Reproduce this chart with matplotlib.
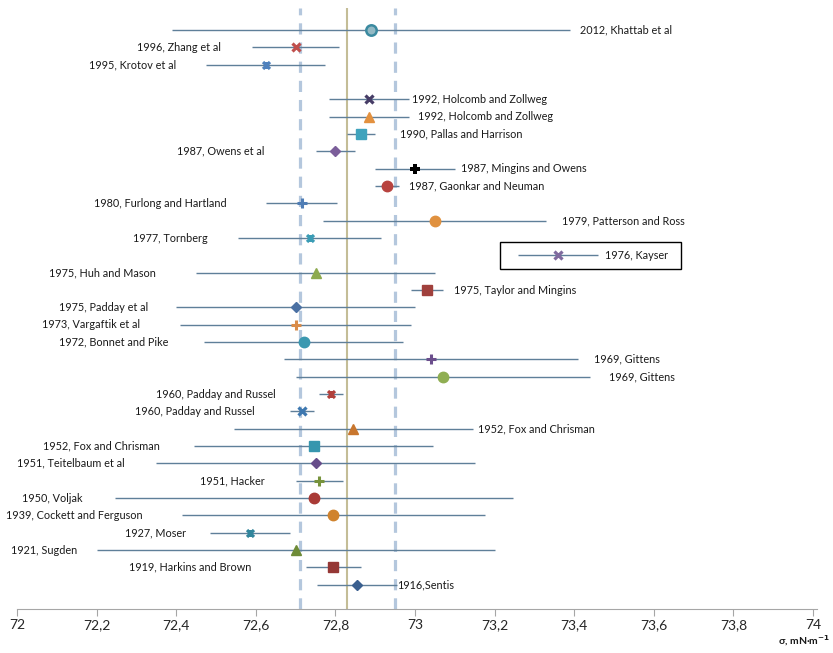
import numpy as np
import matplotlib
matplotlib.use("Agg")
import matplotlib.pyplot as plt
from matplotlib.path import Path
from matplotlib.patches import Rectangle
from matplotlib.ticker import FuncFormatter, MultipleLocator

plt.rcParams['font.family'] = ['Lato', 'DejaVu Sans']

# data: one row per study, None = empty row
labels = ["2012, Khattab et al", "1996, Zhang et al", "1995, Krotov et al", None,
          "1992, Holcomb and Zollweg", "1992, Holcomb and Zollweg", "1990, Pallas and Harrison",
          "1987, Owens et al", "1987, Mingins and Owens", "1987, Gaonkar and Neuman",
          "1980, Furlong and Hartland", "1979, Patterson and Ross", "1977, Tornberg",
          "1976, Kayser", "1975, Huh and Mason", "1975, Taylor and Mingins",
          "1975, Padday et al", "1973, Vargaftik et al", "1972, Bonnet and Pike",
          "1969, Gittens", "1969, Gittens", "1960, Padday and Russel", "1960, Padday and Russel",
          "1952, Fox and Chrisman", "1952, Fox and Chrisman", "1951, Teitelbaum et al",
          "1951, Hacker", "1950, Voljak", "1939, Cockett and Ferguson", "1927, Moser",
          "1921, Sugden", "1919, Harkins and Brown", "1916,Sentis"]
sigma = [72.89, 72.70, 72.625, None, 72.885, 72.885, 72.865, 72.80, 73.00, 72.93,
         72.715, 73.05, 72.735, 73.36, 72.75, 73.03, 72.70, 72.70, 72.72, 73.04, 73.07,
         72.79, 72.715, 72.845, 72.745, 72.75, 72.76, 72.745, 72.795, 72.585, 72.70,
         72.795, 72.855]
err = [0.50, 0.11, 0.15, None, 0.10, 0.10, 0.035, 0.05, 0.10, 0.03,
       0.09, 0.28, 0.18, 0.10, 0.30, 0.04, 0.30, 0.29, 0.25, 0.37, 0.37,
       0.03, 0.03, 0.30, 0.30, 0.40, 0.06, 0.50, 0.38, 0.10, 0.50,
       0.07, 0.10]
mean_sigma = 72.83
band = 0.12

# label anchors (x of text edge) and side
label_x = [73.415, 72.5125, 72.40, None, 72.9925, 73.0075, 72.9625, 72.6225, 73.115, 72.985,
           72.5275, 73.37, 72.48, 73.4775, 72.35, 73.0975, 72.33, 72.31, 72.38, 73.45, 73.4875,
           72.65, 72.5975, 73.1575, 72.36, 72.27, 72.6225, 72.165, 72.315, 72.425, 72.1525,
           72.59, 72.955]
label_side = ['r', 'l', 'l', None, 'r', 'r', 'r', 'l', 'r', 'r',
              'l', 'r', 'l', 'r', 'l', 'r', 'l', 'l', 'l', 'r', 'r',
              'l', 'l', 'r', 'l', 'l', 'l', 'l', 'l', 'l', 'l', 'l', 'r']

# excel-like "star" marker: X with a vertical stroke
star = Path([(-1, -1), (1, 1), (-1, 1), (1, -1), (0, -1), (0, 1)],
            [Path.MOVETO, Path.LINETO, Path.MOVETO, Path.LINETO, Path.MOVETO, Path.LINETO])

markers = ['o', 'x', star, None, 'x', '^', 's', 'D', 'P', 'o',
           '+', 'o', star, 'x', '^', 's', 'D', '+', 'o', '+', 'o',
           star, 'x', '^', 's', 'D', '+', 'o', 'o', star, '^', 's', 'D']
colors = ['#3B8AA0', '#C0504D', '#4F81BD', None, '#463C66', '#E3913F', '#3FA3BD', '#7B5E9A',
          '#000000', '#B8433F', '#4F7DB5', '#E0913F', '#3A9CB5', '#7F6A9E', '#8DAA4F', '#A0403C',
          '#4A70A3', '#D98C4A', '#3B98B0', '#6B4E8C', '#8FAE52', '#B0403C', '#3E78B0', '#C8762E',
          '#3796AE', '#664D8A', '#77933C', '#A93A36', '#D0832E', '#31859C', '#6E8B37',
          '#953735', '#3A5F8F']

fig = plt.figure(figsize=(8.33, 6.53), dpi=100)
ax = fig.add_axes([0.0204, 0.0674, 0.9604, 0.9203])

ax.axvline(mean_sigma, color='#C4BD97', lw=1.5, zorder=1)
for v in (mean_sigma - band, mean_sigma + band):
    ax.axvline(v, color='#B4C7DD', lw=2.3, ls=(0, (3.5, 2.5)), zorder=1)

for i, lab in enumerate(labels):
    if lab is None:
        continue
    m = markers[i]
    c = colors[i]
    ax.errorbar(sigma[i], i, xerr=err[i], fmt='none', ecolor='#5F7F99', elinewidth=1, zorder=2)
    kw = dict(ls='none', marker=m, color=c, zorder=3)
    if m == 'o':
        kw.update(ms=7.5, mec=c, mfc=c)
        if i == 0:
            kw.update(mfc='#93B9C4', mew=1.8)
    elif m in ('s', '^'):
        kw.update(ms=7, mec=c)
    elif m == 'D':
        kw.update(ms=5.5, mec=c)
    elif m == 'x':
        kw.update(ms=6, mew=2.3)
    elif m == '+':
        kw.update(ms=6.5, mew=2.2)
    elif m == 'P':
        kw.update(ms=7, mew=0)
    else:
        kw.update(ms=5, mew=2.3)
    ax.plot(sigma[i], i, **kw)
    ha = 'left' if label_side[i] == 'r' else 'right'
    ax.text(label_x[i], i, lab, ha=ha, va='center', fontsize=7.8, color='#1a1a1a')

# box around the Kayser value
ax.add_patch(Rectangle((73.2125, 12.2), 0.455, 1.6, fill=False, ec='black', lw=1, zorder=4))

ax.set_xlim(72, 74.01)
ax.set_ylim(33.4, -1.27)
ax.xaxis.set_major_locator(MultipleLocator(0.2))
ax.xaxis.set_major_formatter(FuncFormatter(lambda v, p: ('%g' % round(v, 1)).replace('.', ',')))
ax.tick_params(axis='x', direction='out', length=5, color='#A6A6A6', labelsize=10,
               labelcolor='#262626', pad=2)
ax.set_yticks([])
for s in ('top', 'right', 'left'):
    ax.spines[s].set_visible(False)
ax.spines['bottom'].set_color('#A6A6A6')

fig.text(0.997, 0.019, 'σ, mN·m$^{\\mathbf{-1}}$', ha='right', va='center', fontsize=7.5,
         fontweight='bold', color='#1a1a1a')

fig.savefig('out.png', dpi=100)
